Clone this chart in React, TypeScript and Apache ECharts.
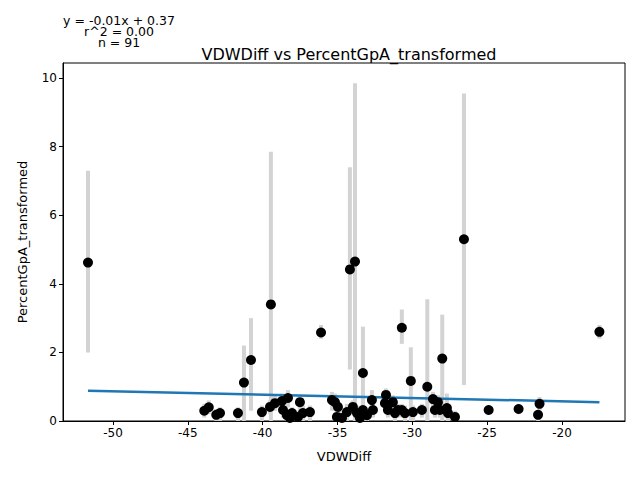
import React, { useEffect, useRef } from "react";
import * as echarts from "echarts";

// VDWDiff values and PercentGpA_transformed values with error bar ranges
const xVals = [
  -51.67, -41.25, -40.78, -39.45, -36.1, -34.17, -33.83, -33.3, -30.7, -30.1, -29.0, -28.0, -26.55, -17.5,
  -43.9, -43.6, -43.1, -24.9, -22.9, -21.6, -21.5,
  -42.85, -41.65, -40.05, -39.51, -39.18, -38.71, -38.31, -38.64, -38.38, -38.04, -38.18, -37.64, -37.51,
  -36.84, -37.31, -35.37, -35.17, -34.97, -35.04, -34.7, -34.37, -33.97, -33.7, -33.5, -33.3, -33.03,
  -32.7, -32.63, -31.76, -31.83, -31.63, -31.3, -31.16, -30.96, -30.7, -30.49, -29.96, -29.36, -28.62,
  -28.29, -28.49, -28.16, -27.69, -27.62, -27.15,
];
const yVals = [
  4.62, 1.12, 1.78, 3.4, 2.58, 4.42, 4.65, 1.4, 2.72, 1.17, 1.0, 1.82, 5.3, 2.6,
  0.3, 0.4, 0.18, 0.32, 0.35, 0.18, 0.5,
  0.23, 0.23, 0.26, 0.41, 0.52, 0.58, 0.67, 0.32, 0.17, 0.23, 0.09, 0.12, 0.55,
  0.26, 0.23, 0.61, 0.55, 0.41, 0.12, 0.09, 0.26, 0.41, 0.23, 0.09, 0.32, 0.17,
  0.61, 0.32, 0.76, 0.52, 0.32, 0.55, 0.23, 0.32, 0.32, 0.23, 0.26, 0.32, 0.64,
  0.55, 0.32, 0.32, 0.38, 0.23, 0.12,
];
const errLow = [
  2.0, 0.0, 0.3, 0.0, 2.4, 1.5, 0.0, 0.0, 2.25, 0.0, 0.0, 0.0, 1.05, 2.4,
  0.1, 0.2, 0.0, 0.2, 0.2, 0.0, 0.3,
  0.0, 0.0, 0.0, 0.2, 0.3, 0.4, 0.4, 0.1, 0.0, 0.0, 0.0, 0.0, 0.3,
  0.0, 0.0, 0.3, 0.3, 0.2, 0.0, 0.0, 0.0, 0.2, 0.0, 0.0, 0.1, 0.0,
  0.3, 0.1, 0.5, 0.3, 0.1, 0.3, 0.0, 0.1, 0.1, 0.0, 0.0, 0.1, 0.4,
  0.3, 0.1, 0.1, 0.2, 0.0, 0.0,
];
const errHigh = [
  7.3, 2.2, 3.0, 7.85, 2.8, 7.4, 9.85, 2.75, 3.25, 2.15, 3.55, 3.1, 9.55, 2.8,
  0.5, 0.6, 0.35, 0.45, 0.5, 0.3, 0.7,
  0.4, 0.4, 0.45, 0.6, 0.75, 0.8, 0.9, 0.5, 0.35, 0.4, 0.3, 0.3, 0.75,
  0.45, 0.45, 0.85, 0.8, 0.6, 0.3, 0.3, 0.5, 0.6, 0.45, 0.3, 0.9, 0.35,
  0.9, 0.5, 0.95, 0.7, 0.5, 0.75, 0.4, 0.5, 0.5, 0.45, 0.45, 0.5, 0.85,
  0.75, 0.5, 0.5, 0.8, 0.4, 0.3,
];
const xTicks = [-50, -45, -40, -35, -30, -25, -20];
const yTicks = [0, 2, 4, 6, 8, 10];
const fitSlope = -0.0097;
const fitIntercept = 0.38;
const statLines = ["y = -0.01x + 0.37", "r^2 = 0.00", "n = 91"];

const App: React.FC = () => {
  const ref = useRef<HTMLDivElement>(null);

  useEffect(() => {
    if (!ref.current) return;
    const chart = echarts.init(ref.current, null, { renderer: "svg" });

    const points = xVals.map((x, i) => [x, yVals[i]]);
    const bars = xVals.map((x, i) => [x, errLow[i], errHigh[i]]);
    const xMin = Math.min(...xVals);
    const xMax = Math.max(...xVals);
    const fit = [xMin, xMax].map((x) => [x, fitSlope * x + fitIntercept]);
    const font = "DejaVu Sans";

    chart.setOption({
      animation: false,
      textStyle: { fontFamily: font },
      grid: { left: 55, right: 7, top: 55, bottom: 51, show: true, borderColor: "#000", borderWidth: 1 },
      title: {
        text: "VDWDiff vs PercentGpA_transformed",
        left: 336,
        textAlign: "center",
        top: 33,
        textStyle: { fontSize: 16, fontWeight: "normal", color: "#000", fontFamily: font },
      },
      graphic: statLines.map((t, i) => ({
        type: "text",
        x: 111 + (i === 0 ? 0 : i === 1 ? 0 : 0),
        y: 6 + i * 11,
        style: { text: t, fontSize: 12.5, fontFamily: font, fill: "#000", textAlign: "center" },
      })),
      xAxis: {
        type: "value",
        min: -53.34,
        max: -15.79,
        name: "VDWDiff",
        nameLocation: "middle",
        nameGap: 29,
        nameTextStyle: { fontSize: 13, color: "#000" },
        splitLine: { show: false },
        axisLine: { lineStyle: { color: "#000" } },
        axisTick: { show: true, customValues: xTicks, length: 4, lineStyle: { color: "#000" } },
        axisLabel: { customValues: xTicks, color: "#000", fontSize: 12, margin: 6 },
      },
      yAxis: {
        type: "value",
        min: 0,
        max: 10.44,
        name: "PercentGpA_transformed",
        nameLocation: "middle",
        nameGap: 34,
        nameTextStyle: { fontSize: 13, color: "#000" },
        splitLine: { show: false },
        axisLine: { show: true, lineStyle: { color: "#000" } },
        axisTick: { show: true, customValues: yTicks, length: 4, lineStyle: { color: "#000" } },
        axisLabel: { customValues: yTicks, color: "#000", fontSize: 12, margin: 6 },
      },
      series: [
        {
          type: "custom",
          data: bars,
          clip: true,
          renderItem: (params: any, api: any) => {
            const lo = api.coord([api.value(0), api.value(1)]);
            const hi = api.coord([api.value(0), api.value(2)]);
            return {
              type: "line",
              shape: { x1: lo[0], y1: lo[1], x2: hi[0], y2: hi[1] },
              style: { stroke: "#d3d3d3", lineWidth: 4 },
            };
          },
          z: 1,
        },
        {
          type: "line",
          data: fit,
          showSymbol: false,
          lineStyle: { color: "#1f77b4", width: 2.5 },
          z: 2,
        },
        {
          type: "scatter",
          data: points,
          symbolSize: 10,
          itemStyle: { color: "#000", opacity: 1 },
          z: 3,
        },
      ],
    });

    return () => chart.dispose();
  }, []);

  return <div ref={ref} style={{ width: 624, height: 464 }} />;
};

export default App;
